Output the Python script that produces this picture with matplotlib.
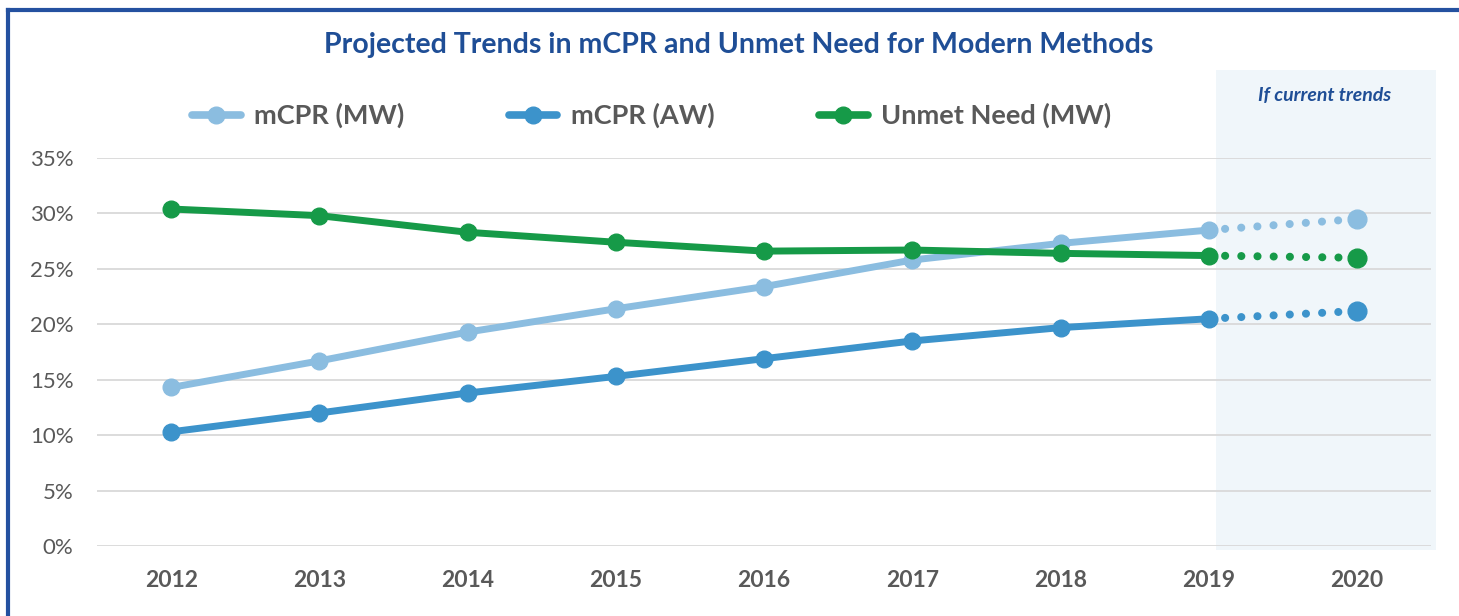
import numpy as np
import matplotlib
matplotlib.use("Agg")
import matplotlib.pyplot as plt
from matplotlib.lines import Line2D
from matplotlib.patches import Rectangle

# Data
years = ['2012', '2013', '2014', '2015', '2016', '2017', '2018', '2019', '2020']
mcpr_mw = [14.3, 16.7, 19.3, 21.4, 23.4, 25.8, 27.3, 28.5, 29.5]
mcpr_aw = [10.3, 12.0, 13.8, 15.3, 16.9, 18.5, 19.7, 20.5, 21.2]
unmet_mw = [30.4, 29.8, 28.3, 27.4, 26.6, 26.7, 26.4, 26.2, 26.0]
series_names = ['mCPR (MW)', 'mCPR (AW)', 'Unmet Need (MW)']
series_colors = ['#8BBDE0', '#3C93CB', '#169A48']
yticks = [0, 5, 10, 15, 20, 25, 30, 35]

plt.rcParams['font.family'] = ['Lato', 'DejaVu Sans']

fig = plt.figure(figsize=(14.59, 6.16), dpi=100, facecolor='white')
ax = fig.add_axes([0.0665, 0.1136, 0.9145, 0.6299])

x = np.arange(len(years))
n_proj = len(years) - 2   # index of 2019, last observed point

# Shaded projection zone
ax.add_patch(Rectangle((7.05, -0.4), 1.48, 43.3, facecolor='#F0F6FA',
                       edgecolor='none', zorder=0, clip_on=False))
ax.text(7.78, 40.6, 'If current trends', color='#1F4E96', fontsize=14,
        fontweight='bold', style='italic', ha='center', va='center')

for vals, col in zip([mcpr_mw, mcpr_aw, unmet_mw], series_colors):
    ax.plot(x[:n_proj + 1], vals[:n_proj + 1], color=col, lw=5,
            marker='o', ms=12, solid_capstyle='round', zorder=3)
    ax.plot(x[n_proj:], vals[n_proj:], color=col, lw=5.8,
            linestyle=(0, (0.01, 2.0)), dash_capstyle='round', zorder=3)
    ax.plot(x[-1], vals[-1], color=col, marker='o', ms=13.5, zorder=4)

ax.set_xlim(-0.5, len(years) - 0.5)
ax.set_ylim(0, 35)
ax.set_yticks(yticks)
ax.set_yticklabels(['%d%%' % v for v in yticks])
ax.set_xticks(x)
ax.set_xticklabels(years, fontweight='bold')
ax.tick_params(axis='y', length=0, pad=17, labelsize=16, labelcolor='#595959')
ax.tick_params(axis='x', length=0, pad=17, labelsize=16.5, labelcolor='#595959')
ax.grid(axis='y', color='#D9D9D9', lw=1.3)
ax.set_axisbelow(True)
for s in ax.spines.values():
    s.set_visible(False)
ax.set_facecolor('none')

# Legend
handles = [Line2D([], [], color=c, lw=5.5, marker='o', ms=12, solid_capstyle='round')
           for c in series_colors]
leg = fig.legend(handles, series_names, loc='center', ncol=3,
                 bbox_to_anchor=(0.4466, 0.812), frameon=False,
                 handlelength=1.8, columnspacing=3.85, handletextpad=0.5,
                 prop={'size': 19.5, 'weight': 'bold'})
for t in leg.get_texts():
    t.set_color('#595959')

# Title
fig.text(0.5065, 0.927, 'Projected Trends in mCPR and Unmet Need for Modern Methods',
         ha='center', va='center', fontsize=20.5, fontweight='bold', color='#1F4E96')

# Blue frame (cropped on right and bottom)
fig.add_artist(Line2D([8 / 1459, 1.0], [1 - 10 / 616, 1 - 10 / 616],
                      color='#2451A0', lw=3, transform=fig.transFigure))
fig.add_artist(Line2D([8 / 1459, 8 / 1459], [1 - 10 / 616, 0.0],
                      color='#2451A0', lw=3, transform=fig.transFigure))

fig.savefig('out.png', dpi=100, facecolor='white')
